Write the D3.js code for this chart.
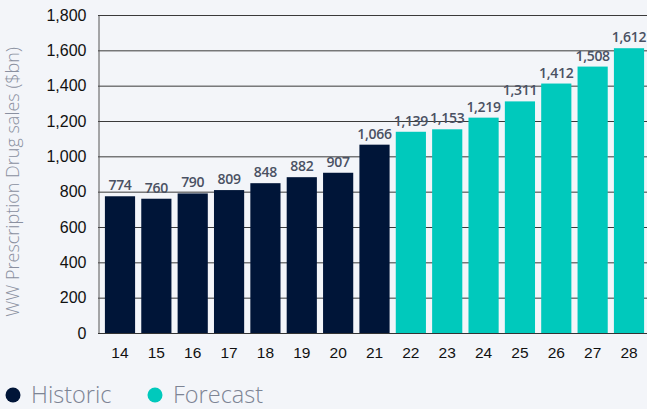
<!DOCTYPE html>
<html>
<head>
<meta charset="utf-8">
<script src="https://cdn.jsdelivr.net/npm/d3@7"></script>
<style>
    body { margin: 0; background: #f3f5f9; }
    svg { display: block; }
</style>
</head>
<body>
<div id="chart"></div>
<script>
    var years = ["14", "15", "16", "17", "18", "19", "20", "21", "22", "23", "24", "25", "26", "27", "28"];
    var sales = [774, 760, 790, 809, 848, 882, 907, 1066, 1139, 1153, 1219, 1311, 1412, 1508, 1612];
    var kinds = ["Historic", "Historic", "Historic", "Historic", "Historic", "Historic", "Historic", "Historic",
        "Forecast", "Forecast", "Forecast", "Forecast", "Forecast", "Forecast", "Forecast"];
    var yTicks = [0, 200, 400, 600, 800, 1000, 1200, 1400, 1600, 1800];
    var seriesNames = ["Historic", "Forecast"];
    var seriesColors = ["#001538", "#00c9bc"];

    var width = 647, height = 409;
    var margin = {top: 15, right: 0, bottom: 76, left: 98};

    var svg = d3.select("#chart").append("svg")
        .attr("width", width)
        .attr("height", height)
        .style("font-family", "'Open Sans', sans-serif");

    var color = d3.scaleOrdinal().domain(seriesNames).range(seriesColors);

    var x = d3.scaleBand()
        .domain(years)
        .range([margin.left, 651])
        .paddingInner(0.17)
        .paddingOuter(0.19);

    var y = d3.scaleLinear()
        .domain([0, 1800])
        .range([height - margin.bottom, margin.top]);

    // gridlines
    svg.append("g")
        .selectAll("line")
        .data(yTicks)
        .enter()
        .append("line")
        .attr("x1", margin.left)
        .attr("x2", width)
        .attr("y1", function (d) { return y(d) + 0.5; })
        .attr("y2", function (d) { return y(d) + 0.5; })
        .style("stroke", "#3a3a3a")
        .style("stroke-width", 1);

    var yAxis = d3.axisLeft(y).tickValues(yTicks).tickSize(0).tickPadding(12)
        .tickFormat(d3.format(",d"));

    var yElement = svg.append("g")
        .attr("transform", "translate(" + (margin.left + 0.5) + ",0)")
        .call(yAxis);
    yElement.select(".domain").style("stroke", "#555");
    yElement.selectAll("text")
        .style("font-size", "16px")
        .style("font-weight", "500")
        .style("fill", "#111");

    svg.selectAll(".bar")
        .data(sales)
        .enter()
        .append("rect")
        .attr("class", "bar")
        .attr("x", function (d, i) { return x(years[i]); })
        .attr("width", x.bandwidth())
        .attr("y", function (d) { return y(d); })
        .attr("height", function (d) { return y(0) - y(d); })
        .style("fill", function (d, i) { return color(kinds[i]); });

    svg.selectAll(".val")
        .data(sales)
        .enter()
        .append("text")
        .attr("class", "val")
        .attr("x", function (d, i) { return x(years[i]) + x.bandwidth() / 2; })
        .attr("y", function (d) { return y(d) - 6; })
        .style("text-anchor", "middle")
        .style("font-size", "14px")
        .style("font-weight", "600")
        .style("letter-spacing", "-0.3px")
        .style("fill", "#4a5163")
        .text(function (d) { return d3.format(",d")(d); });

    var xAxis = d3.axisBottom(x).tickSize(0).tickPadding(14);
    var xElement = svg.append("g")
        .attr("transform", "translate(0," + y(0) + ")")
        .call(xAxis);
    xElement.select(".domain").remove();
    xElement.selectAll("text")
        .style("font-size", "15.5px")
        .style("font-weight", "500")
        .style("fill", "#111");

    // baseline
    svg.append("line")
        .attr("x1", margin.left)
        .attr("x2", width)
        .attr("y1", y(0) + 0.5)
        .attr("y2", y(0) + 0.5)
        .style("stroke", "#333");

    svg.append("text")
        .attr("transform", "translate(19," + ((margin.top + y(0)) / 2 + 8) + ") rotate(-90)")
        .style("text-anchor", "middle")
        .style("font-size", "18px")
        .style("font-weight", "300")
        .style("fill", "#8a90a0")
        .text("WW Prescription Drug sales ($bn)");

    // legend
    var legendX = [13, 155];
    var legend = svg.selectAll(".legend")
        .data(seriesNames)
        .enter()
        .append("g")
        .attr("class", "legend")
        .attr("transform", function (d, i) { return "translate(" + legendX[i] + ",395)"; });

    legend.append("circle")
        .attr("r", 7.5)
        .style("fill", function (d) { return color(d); });

    legend.append("text")
        .attr("x", 18)
        .attr("y", 8)
        .style("font-size", "23.5px")
        .style("font-weight", "300")
        .style("fill", "#7d8494")
        .text(function (d) { return d; });
</script>
</body>
</html>
